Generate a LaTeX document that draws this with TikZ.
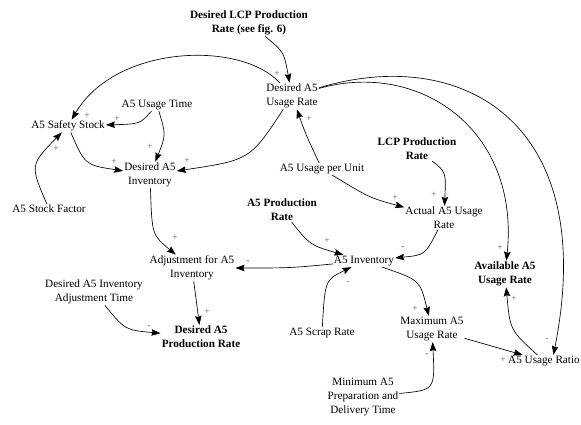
\documentclass[tikz,border=0pt]{standalone}
\usepackage{fontspec}
\setmainfont{Liberation Serif}
\usetikzlibrary{arrows.meta}
\begin{document}
\begin{tikzpicture}[x=1pt,y=-1pt,
  var/.style={align=center,inner sep=1pt,font=\fontsize{11.2}{14}\selectfont,text=black},
  bvar/.style={var,font=\fontsize{11.2}{14}\selectfont\bfseries},
  link/.style={line width=0.65pt,-{Stealth[length=9pt,width=6.5pt,inset=1.2pt]}},
  pol/.style={font=\fontsize{9.5}{9.5}\selectfont,text=black!65,inner sep=0pt}]
\useasboundingbox (0,0) rectangle (581,424);
% variables
\node[bvar] (dlcp) at (249,23) {Desired LCP Production\\Rate (see fig. 6)};
\node[var] (dusage) at (292,96) {Desired A5\\Usage Rate};
\node[var] (safety) at (68,126) {A5 Safety Stock};
\node[var] (utime) at (157,105) {A5 Usage Time};
\node[var] (dinv) at (150,175) {Desired A5\\Inventory};
\node[var] (stockf) at (49,209) {A5 Stock Factor};
\node[var] (perunit) at (322,169) {A5 Usage per Unit};
\node[bvar] (lcp) at (417,149) {LCP Production\\Rate};
\node[var] (actual) at (444,218) {Actual A5 Usage\\Rate};
\node[bvar] (aprod) at (282,210) {A5 Production\\Rate};
\node[var] (inv) at (364,261) {A5 Inventory};
\node[var] (adj) at (192,268) {Adjustment for A5\\Inventory};
\node[var] (adjt) at (94,292) {Desired A5 Inventory\\Adjustment Time};
\node[bvar] (dprod) at (201,337) {Desired A5\\Production Rate};
\node[var] (scrap) at (322,333) {A5 Scrap Rate};
\node[var] (maxu) at (432,329) {Maximum A5\\Usage Rate};
\node[var] (minp) at (363,397) {Minimum A5\\Preparation and\\Delivery Time};
\node[bvar] (avail) at (505,274) {Available A5\\Usage Rate};
\node[var] (ratio) at (544,361) {A5 Usage Ratio};
% links
\draw[link] (dlcp) .. controls (284,52) .. (dusage);
\draw[link] (dusage) .. controls (240,40) and (115,45) .. (safety);
\draw[link] (utime) .. controls (140,124) .. (safety);
\draw[link] (utime) .. controls (166,135) .. (dinv);
\draw[link] (safety) .. controls (85,165) .. (dinv);
\draw[link] (dusage) .. controls (250,160) .. (dinv);
\draw[link] (stockf) .. controls (30,165) .. (safety);
\draw[link] (perunit) .. controls (306,135) .. (dusage);
\draw[link] (perunit) .. controls (370,198) .. (actual);
\draw[link] (lcp) .. controls (446,172) .. (actual);
\draw[link] (dusage) .. controls (420,60) and (520,130) .. (avail);
\draw[link] (dusage) .. controls (460,45) and (600,120) .. (ratio.33);
\draw[link] (dinv) .. controls (152,235) .. (adj);
\draw[link] (inv) .. controls (290,268) .. (adj);
\draw[link] (adj) -- (dprod);
\draw[link] (adjt) .. controls (125,330) .. (dprod);
\draw[link] (aprod) .. controls (310,245) .. (inv);
\draw[link] (actual) .. controls (425,255) .. (inv);
\draw[link] (scrap) .. controls (325,280) .. (inv);
\draw[link] (inv) .. controls (420,280) .. (maxu);
\draw[link] (maxu) -- (ratio);
\draw[link] (minp) .. controls (435,390) .. (maxu);
\draw[link] (ratio) .. controls (510,330) .. (avail);
% polarities
\node[pol] (p1) at (277,74) {+};
\node[pol] (p2) at (87,116) {+};
\node[pol] (p3) at (117,119) {+};
\node[pol] (p4) at (150,147) {+};
\node[pol] (p5) at (114,162) {+};
\node[pol] (p6) at (187,161) {+};
\node[pol] (p7) at (56,149) {+};
\node[pol] (p8) at (309,119) {+};
\node[pol] (p9) at (395,198) {+};
\node[pol] (p10) at (434,195) {+};
\node[pol] (p11) at (500,248) {+};
\node[pol] (p12) at (547,340) {-};
\node[pol] (p13) at (175,238) {+};
\node[pol] (p14) at (248,262) {-};
\node[pol] (p15) at (207,312) {+};
\node[pol] (p16) at (149,327) {-};
\node[pol] (p17) at (327,241) {+};
\node[pol] (p18) at (403,248) {-};
\node[pol] (p19) at (348,283) {-};
\node[pol] (p20) at (415,309) {+};
\node[pol] (p21) at (503,360) {+};
\node[pol] (p22) at (427,355) {-};
\node[pol] (p23) at (514,299) {+};
\end{tikzpicture}
\end{document}
